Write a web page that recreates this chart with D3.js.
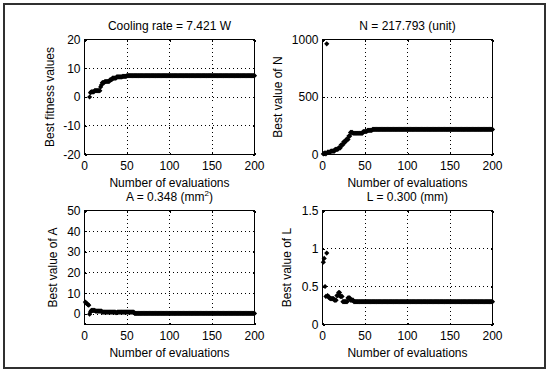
<!DOCTYPE html>
<html>
<head>
<meta charset="utf-8">
<script src="https://cdn.jsdelivr.net/npm/d3@7"></script>
<style>
  html, body { margin: 0; padding: 0; background: #fff; }
  svg { display: block; }
  text { font-family: "Liberation Sans", Arial, sans-serif; fill: #000; }
</style>
</head>
<body>
<svg id="chart" width="550" height="372"></svg>
<script>
// ---- Data (best-so-far values; each value holds from its start evaluation until the next start) ----
const evalTotal = 200;
const xTicks = [0, 50, 100, 150, 200];

const fitStart = [6, 7, 8, 12, 19, 20, 21, 24, 30, 33, 38, 45, 50];
const fitValue = [0, 1.5, 1.8, 2.2, 3.5, 4.2, 5.0, 5.4, 6.0, 6.6, 7.0, 7.2, 7.421];
const fitTicks = [-20, -10, 0, 10, 20];

const nStart = [1, 2, 3, 4, 5, 6, 10, 15, 19, 22, 25, 28, 31, 33, 36, 48, 53, 59];
const nValue = [5, 10, 15, 5, 962, 20, 30, 45, 58, 85, 110, 131, 160, 192, 185, 200, 210, 217.793];
const nTicks = [0, 500, 1000];

const aStart = [1, 2, 3, 4, 5, 6, 7, 8, 13, 21, 37, 39, 59];
const aValue = [5.8, 5.3, 5.0, 4.6, 4.3, 0.0, 1.0, 1.8, 1.5, 1.0, 0.7, 1.0, 0.348];
const aTicks = [0, 10, 20, 30, 40, 50];

const lStart = [1, 2, 3, 4, 5, 6, 7, 9, 14, 17, 19, 21, 24, 30, 33, 37];
const lValue = [0.82, 0.87, 0.50, 0.37, 0.94, 0.38, 0.36, 0.34, 0.32, 0.38, 0.42, 0.37, 0.30, 0.35, 0.32, 0.300];
const lTicks = [0, 0.5, 1, 1.5];

const titles = ["Cooling rate = 7.421 W", "N = 217.793 (unit)", "A = 0.348 (mm", "L = 0.300 (mm)"];
const yLabels = ["Best fitness values", "Best value of N", "Best value of A", "Best value of L"];
const xLabel = "Number of evaluations";

// expand step runs into one point per evaluation
function expand(starts, values) {
  const pts = [];
  for (let i = 0; i < starts.length; i++) {
    const end = i < starts.length - 1 ? starts[i + 1] - 1 : evalTotal;
    for (let e = starts[i]; e <= end; e++) pts.push([e, values[i]]);
  }
  return pts;
}

const panels = [
  { x0: 84.5, x1: 254.5, y0: 39.5, y1: 154.5, dom: [-20, 20], ticks: fitTicks, pts: expand(fitStart, fitValue), title: titles[0], yl: yLabels[0], ylx: 54 },
  { x0: 322.5, x1: 492.5, y0: 39.5, y1: 154.5, dom: [0, 1000], ticks: nTicks, pts: expand(nStart, nValue), title: titles[1], yl: yLabels[1], ylx: 282 },
  { x0: 84.5, x1: 254.5, y0: 210.5, y1: 324.5, dom: [-5, 50], ticks: aTicks, pts: expand(aStart, aValue), title: titles[2], sup: true, yl: yLabels[2], ylx: 57 },
  { x0: 322.5, x1: 492.5, y0: 210.5, y1: 324.5, dom: [0, 1.5], ticks: lTicks, pts: expand(lStart, lValue), title: titles[3], yl: yLabels[3], ylx: 291 }
];

const svg = d3.select("#chart");

// outer frame
svg.append("rect").attr("x", 4).attr("y", 4).attr("width", 541).attr("height", 364)
  .attr("fill", "none").attr("stroke", "#303030").attr("stroke-width", 2);

const diamond = "M0,-2.6L2.6,0L0,2.6L-2.6,0Z";

panels.forEach(p => {
  const x = d3.scaleLinear().domain([0, evalTotal]).range([p.x0, p.x1]);
  const y = d3.scaleLinear().domain(p.dom).range([p.y1, p.y0]);
  const g = svg.append("g");

  // grid
  xTicks.filter(t => t > 0 && t < evalTotal).forEach(t => {
    g.append("line").attr("x1", x(t)).attr("x2", x(t)).attr("y1", p.y0).attr("y2", p.y1)
      .attr("stroke", "#000").attr("stroke-dasharray", "1,3").attr("shape-rendering", "crispEdges");
  });
  p.ticks.filter(t => t > p.dom[0] && t < p.dom[1]).forEach(t => {
    g.append("line").attr("y1", y(t)).attr("y2", y(t)).attr("x1", p.x0).attr("x2", p.x1)
      .attr("stroke", "#000").attr("stroke-dasharray", "1,3").attr("shape-rendering", "crispEdges");
  });

  // axes with small inward ticks
  const xb = d3.axisBottom(x).tickValues(xTicks).tickSize(-2).tickPadding(0).tickFormat("");
  const xt = d3.axisTop(x).tickValues(xTicks).tickSize(-2).tickFormat("");
  const yl = d3.axisLeft(y).tickValues(p.ticks).tickSize(-2).tickFormat("");
  const yr = d3.axisRight(y).tickValues(p.ticks).tickSize(-2).tickFormat("");
  [[xb, `translate(0,${p.y1})`], [xt, `translate(0,${p.y0})`], [yl, `translate(${p.x0},0)`], [yr, `translate(${p.x1},0)`]]
    .forEach(([ax, tr]) => {
      const a = g.append("g").attr("transform", tr).call(ax);
      a.select(".domain").remove();
      a.selectAll("line").attr("stroke", "#000").attr("shape-rendering", "crispEdges");
    });

  // box
  g.append("rect").attr("x", p.x0).attr("y", p.y0).attr("width", p.x1 - p.x0).attr("height", p.y1 - p.y0)
    .attr("fill", "none").attr("stroke", "#000").attr("shape-rendering", "crispEdges");

  // tick labels
  xTicks.forEach(t => {
    g.append("text").attr("x", x(t)).attr("y", p.y1 + 15).attr("text-anchor", "middle")
      .attr("font-size", 12).text(d3.format("d")(t));
  });
  p.ticks.forEach(t => {
    g.append("text").attr("x", p.x0 - 4).attr("y", y(t)).attr("dy", "0.36em").attr("text-anchor", "end")
      .attr("font-size", 12).text(String(t));
  });

  // title
  const tt = g.append("text").attr("x", (p.x0 + p.x1) / 2).attr("y", p.y0 - 10)
    .attr("text-anchor", "middle").attr("font-size", 12);
  tt.append("tspan").text(p.title);
  if (p.sup) {
    tt.append("tspan").attr("font-size", 8).attr("dy", -5).text("2");
    tt.append("tspan").attr("dy", 5).text(")");
  }

  // axis labels
  g.append("text").attr("x", (p.x0 + p.x1) / 2).attr("y", p.y1 + 32).attr("text-anchor", "middle")
    .attr("font-size", 12).text(xLabel);
  g.append("text").attr("transform", `translate(${p.ylx},${(p.y0 + p.y1) / 2}) rotate(-90)`)
    .attr("text-anchor", "middle").attr("font-size", 12).text(p.yl);

  // markers
  g.selectAll("path.pt").data(p.pts.filter(d => d[1] >= p.dom[0] && d[1] <= p.dom[1]))
    .enter().append("path").attr("class", "pt")
    .attr("d", diamond)
    .attr("transform", d => `translate(${x(d[0])},${y(d[1])})`)
    .attr("fill", "#000");
});
</script>
</body>
</html>
